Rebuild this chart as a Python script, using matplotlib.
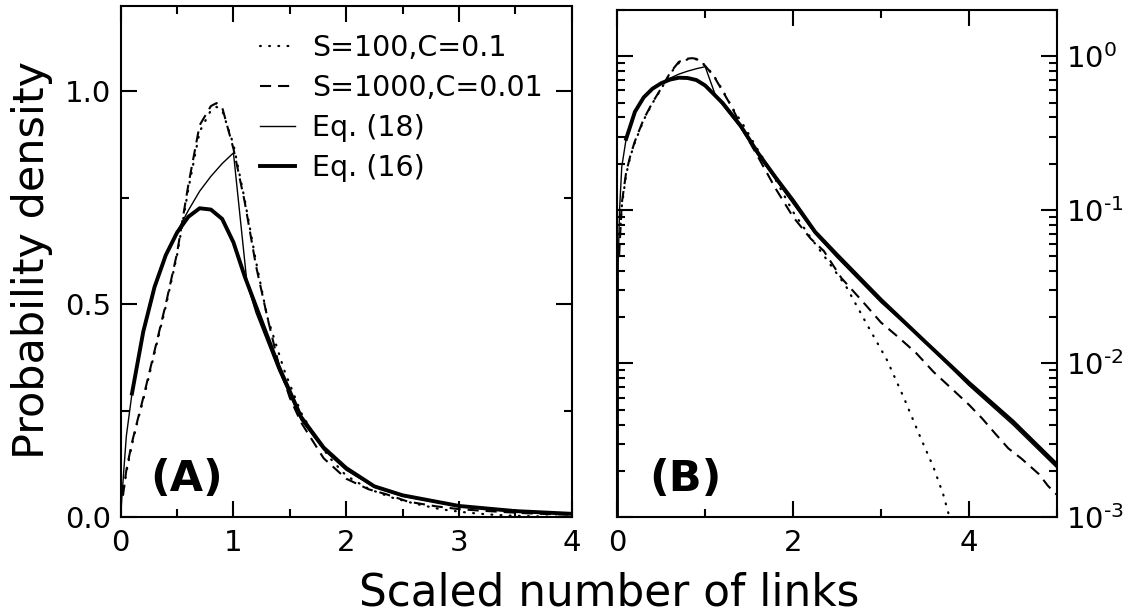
import math
import matplotlib
matplotlib.use("Agg")
import matplotlib.pyplot as plt
from matplotlib.ticker import (MultipleLocator, FormatStrFormatter, LogLocator,
                               NullFormatter, FuncFormatter)

plt.rcParams['font.family'] = ['DejaVu Sans']
plt.rcParams['lines.scale_dashes'] = False
plt.rcParams['mathtext.fontset'] = 'dejavusans'

# ---- data ----
# Simulation S=100, C=0.1 (dotted)
s100_x = [0.03, 0.05, 0.1, 0.15, 0.2, 0.3, 0.4, 0.5, 0.6, 0.7, 0.8, 0.85, 0.9, 1.0,
          1.1, 1.2, 1.3, 1.45, 1.6, 1.72, 1.85, 2.0, 2.2, 2.4, 2.6, 2.84, 3.07, 3.26,
          3.45, 3.6, 3.71, 3.77, 3.85, 4.0]
s100_y = [0.07, 0.105, 0.17, 0.225, 0.275, 0.385, 0.495, 0.615, 0.77, 0.905, 0.955,
          0.963, 0.955, 0.875, 0.745, 0.60, 0.47, 0.345, 0.245, 0.19, 0.14, 0.097,
          0.066, 0.046, 0.032, 0.018, 0.0105, 0.006, 0.0033, 0.0021, 0.0014, 0.00105,
          0.0007, 0.0003]

# Simulation S=1000, C=0.01 (dashed)
s1000_x = [0.02, 0.05, 0.1, 0.15, 0.2, 0.3, 0.4, 0.5, 0.6, 0.7, 0.8, 0.85, 0.9, 1.0,
           1.1, 1.2, 1.3, 1.4, 1.5, 1.6, 1.8, 2.0, 2.2, 2.35, 2.55, 2.8, 3.0, 3.2,
           3.4, 3.6, 3.8, 4.0, 4.15, 4.3, 4.45, 4.6, 4.8, 4.9, 5.0]
s1000_y = [0.05, 0.11, 0.175, 0.228, 0.28, 0.39, 0.50, 0.62, 0.78, 0.92, 0.965, 0.972,
           0.962, 0.865, 0.74, 0.59, 0.47, 0.36, 0.28, 0.222, 0.138, 0.09, 0.065,
           0.054, 0.036, 0.025, 0.0185, 0.0148, 0.0117, 0.0088, 0.0069, 0.0054,
           0.0044, 0.0035, 0.0028, 0.0024, 0.0019, 0.0016, 0.0014]

# Eq. (18) (thin solid)
eq18_x = [0.0, 0.01, 0.025, 0.05, 0.1, 0.2, 0.3, 0.4, 0.5, 0.6, 0.7, 0.8, 0.9, 1.0,
          1.12, 1.2, 1.4, 1.6, 1.8, 2.0, 2.25, 2.5, 3.0, 3.5, 4.0, 4.5, 5.0]
eq18_y = [0.0, 0.045, 0.10, 0.19, 0.29, 0.435, 0.54, 0.615, 0.67, 0.72, 0.765, 0.80,
          0.83, 0.855, 0.55, 0.48, 0.345, 0.228, 0.158, 0.11, 0.07, 0.049, 0.025,
          0.0138, 0.0072, 0.004, 0.0021]

# Eq. (16) (thick solid)
eq16_x = [0.1, 0.2, 0.3, 0.4, 0.5, 0.6, 0.7, 0.8, 0.9, 1.0, 1.1, 1.2, 1.4, 1.6, 1.8,
          2.0, 2.25, 2.5, 3.0, 3.5, 4.0, 4.5, 5.0]
eq16_y = [0.29, 0.435, 0.54, 0.615, 0.668, 0.705, 0.725, 0.722, 0.70, 0.645, 0.565,
          0.495, 0.355, 0.235, 0.163, 0.115, 0.072, 0.051, 0.026, 0.0139, 0.0075,
          0.0042, 0.0022]

labels = ["S=100,C=0.1", "S=1000,C=0.01", "Eq. (18)", "Eq. (16)"]

fig = plt.figure(figsize=(11.28, 6.12), dpi=100)
ax1 = fig.add_axes([0.1070, 0.1552, 0.3998, 0.8350])
ax2 = fig.add_axes([0.5473, 0.1552, 0.3894, 0.8284])


def draw(ax):
    l1, = ax.plot(s100_x, s100_y, color='black', lw=1.6, dashes=(0.6, 6.0),
                  dash_capstyle='round')
    l2, = ax.plot(s1000_x, s1000_y, color='black', lw=1.5, dashes=(8, 5))
    l3, = ax.plot(eq18_x, eq18_y, color='black', lw=1.0)
    l4, = ax.plot(eq16_x, eq16_y, color='black', lw=2.8)
    return [l1, l2, l3, l4]


handles = draw(ax1)
draw(ax2)

# left panel: linear
ax1.set_xlim(0, 4)
ax1.set_ylim(0, 1.2)
ax1.xaxis.set_major_locator(MultipleLocator(1))
ax1.xaxis.set_minor_locator(MultipleLocator(0.5))
ax1.yaxis.set_major_locator(MultipleLocator(0.5))
ax1.yaxis.set_minor_locator(MultipleLocator(0.25))
ax1.yaxis.set_major_formatter(FormatStrFormatter('%.1f'))


def log_label(v, pos):
    e = int(round(math.log10(v)))
    if e < 0:
        return r'$10^{\text{-}%d}$' % (-e)
    return r'$10^{%d}$' % e


# right panel: log
ax2.set_yscale('log')
ax2.set_xlim(0, 5)
ax2.set_ylim(1e-3, 2.0)
ax2.xaxis.set_major_locator(MultipleLocator(2))
ax2.xaxis.set_minor_locator(MultipleLocator(1))
ax2.yaxis.set_major_locator(LogLocator(base=10, numticks=10))
ax2.yaxis.set_minor_locator(LogLocator(base=10, subs=range(2, 10), numticks=20))
ax2.yaxis.set_major_formatter(FuncFormatter(log_label))
ax2.yaxis.set_minor_formatter(NullFormatter())

for ax in (ax1, ax2):
    for sp in ax.spines.values():
        sp.set_linewidth(1.5)
    ax.tick_params(which='both', direction='in', top=True, right=True,
                   width=1.5, labelsize=21)
    ax.tick_params(which='major', length=11.5)
    ax.tick_params(which='minor', length=5.5)
    ax.tick_params(axis='x', which='both', pad=8.5)

ax1.tick_params(axis='y', which='both', pad=7)
ax2.tick_params(axis='y', which='both', labelleft=False, labelright=True, pad=7)

ax1.text(0.065, 0.051, '(A)', transform=ax1.transAxes, fontsize=31,
         fontweight='bold', ha='left', va='baseline')
ax2.text(0.072, 0.051, '(B)', transform=ax2.transAxes, fontsize=31,
         fontweight='bold', ha='left', va='baseline')

ax1.legend(handles, labels, loc='upper left', bbox_to_anchor=(0.309, 0.946),
           frameon=False, fontsize=20.5, handlelength=1.23, handletextpad=0.6,
           labelspacing=0.43, borderpad=0, borderaxespad=0)

fig.text(0.540, 0.0114, 'Scaled number of links', fontsize=31.5,
         ha='center', va='baseline')
fig.text(0.0288, 0.575, 'Probability density', fontsize=31, rotation=90,
         ha='center', va='center')

fig.savefig('out.png', dpi=100)
